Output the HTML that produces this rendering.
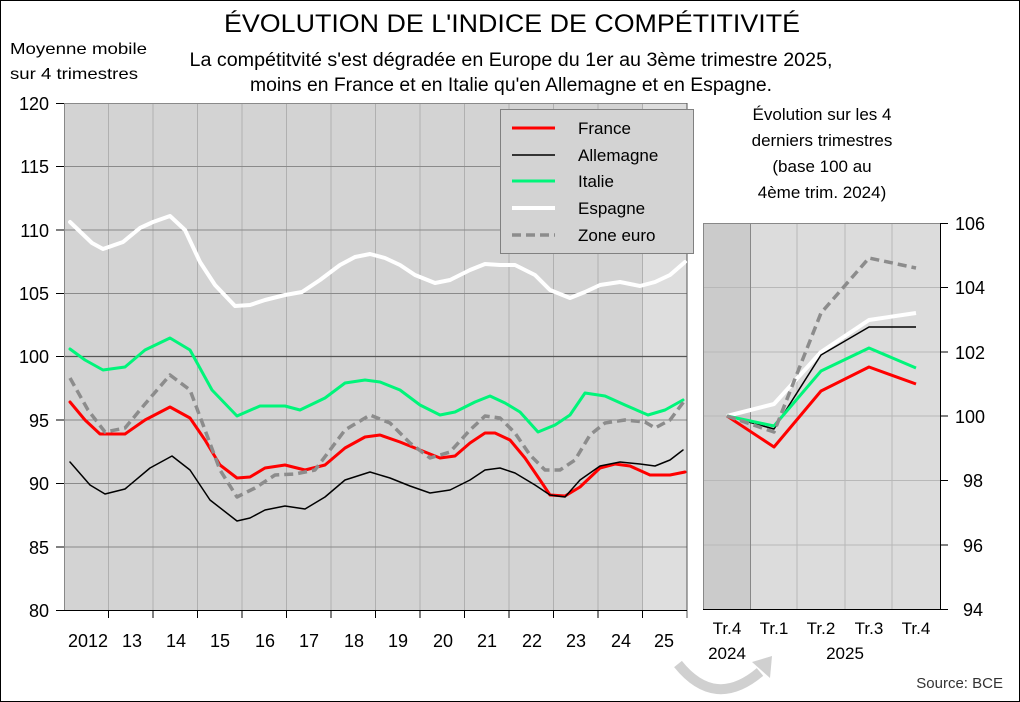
<!DOCTYPE html>
<html><head><meta charset="utf-8"><style>
html,body{margin:0;padding:0;background:#fff}
svg{display:block;font-family:"Liberation Sans Narrow","Liberation Sans",sans-serif}
</style></head><body>
<svg width="1020" height="702" viewBox="0 0 1020 702" xmlns="http://www.w3.org/2000/svg">
<rect x="0.5" y="0.5" width="1019" height="701" fill="#fff" stroke="#000" stroke-width="1"/>
<text x="512" y="32" font-size="25" text-anchor="middle" textLength="576" lengthAdjust="spacingAndGlyphs">ÉVOLUTION DE L'INDICE DE COMPÉTITIVITÉ</text>
<text x="511" y="66" font-size="19" text-anchor="middle" textLength="643" lengthAdjust="spacingAndGlyphs">La compétitvité s'est dégradée en Europe du 1er au 3ème trimestre 2025,</text>
<text x="511" y="91" font-size="19" text-anchor="middle" textLength="522" lengthAdjust="spacingAndGlyphs">moins en France et en Italie qu'en Allemagne et en Espagne.</text>
<text x="10" y="54" font-size="16" textLength="137" lengthAdjust="spacingAndGlyphs">Moyenne mobile</text>
<text x="10" y="79" font-size="16" textLength="128" lengthAdjust="spacingAndGlyphs">sur 4 trimestres</text>

<!-- main plot -->
<rect x="64" y="103" width="623" height="507" fill="#d3d3d3"/>
<rect x="642" y="103" width="45" height="507" fill="#dedede"/>
<g stroke="#b0b0b0" stroke-width="1">
<line x1="108.5" y1="103" x2="108.5" y2="610"/><line x1="153" y1="103" x2="153" y2="610"/><line x1="197.5" y1="103" x2="197.5" y2="610"/><line x1="242" y1="103" x2="242" y2="610"/><line x1="286.5" y1="103" x2="286.5" y2="610"/><line x1="331" y1="103" x2="331" y2="610"/><line x1="375.5" y1="103" x2="375.5" y2="610"/><line x1="420" y1="103" x2="420" y2="610"/><line x1="464.5" y1="103" x2="464.5" y2="610"/><line x1="509" y1="103" x2="509" y2="610"/><line x1="553.5" y1="103" x2="553.5" y2="610"/><line x1="598" y1="103" x2="598" y2="610"/><line x1="642.5" y1="103" x2="642.5" y2="610"/>
</g>
<g stroke="#8a8a8a" stroke-width="1">
<line x1="64" y1="103.5" x2="687" y2="103.5"/><line x1="64" y1="166.5" x2="687" y2="166.5"/><line x1="64" y1="230" x2="687" y2="230"/><line x1="64" y1="293.5" x2="687" y2="293.5"/><line x1="64" y1="420" x2="687" y2="420"/><line x1="64" y1="483.5" x2="687" y2="483.5"/><line x1="64" y1="547" x2="687" y2="547"/>
</g>
<line x1="64" y1="356.5" x2="687" y2="356.5" stroke="#555" stroke-width="1.2"/>
<line x1="64.5" y1="103" x2="64.5" y2="610" stroke="#888"/>
<line x1="687" y1="103" x2="687" y2="618" stroke="#555"/>
<line x1="56" y1="610.5" x2="687" y2="610.5" stroke="#000"/>
<g stroke="#000"><line x1="56" y1="103.5" x2="64" y2="103.5"/><line x1="56" y1="166.5" x2="64" y2="166.5"/><line x1="56" y1="230" x2="64" y2="230"/><line x1="56" y1="293.5" x2="64" y2="293.5"/><line x1="56" y1="356.5" x2="64" y2="356.5"/><line x1="56" y1="420" x2="64" y2="420"/><line x1="56" y1="483.5" x2="64" y2="483.5"/><line x1="56" y1="547" x2="64" y2="547"/>
<line x1="108.5" y1="610" x2="108.5" y2="618"/><line x1="153" y1="610" x2="153" y2="618"/><line x1="197.5" y1="610" x2="197.5" y2="618"/><line x1="242" y1="610" x2="242" y2="618"/><line x1="286.5" y1="610" x2="286.5" y2="618"/><line x1="331" y1="610" x2="331" y2="618"/><line x1="375.5" y1="610" x2="375.5" y2="618"/><line x1="420" y1="610" x2="420" y2="618"/><line x1="464.5" y1="610" x2="464.5" y2="618"/><line x1="509" y1="610" x2="509" y2="618"/><line x1="553.5" y1="610" x2="553.5" y2="618"/><line x1="598" y1="610" x2="598" y2="618"/><line x1="642.5" y1="610" x2="642.5" y2="618"/></g>
<g font-family="Liberation Sans,sans-serif" font-size="18" text-anchor="end">
<text x="49" y="110">120</text><text x="49" y="173">115</text><text x="49" y="237">110</text><text x="49" y="300">105</text><text x="49" y="363">100</text><text x="49" y="427">95</text><text x="49" y="490">90</text><text x="49" y="554">85</text><text x="49" y="617">80</text>
</g>
<g font-family="Liberation Sans,sans-serif" font-size="18" text-anchor="middle">
<text x="88" y="647">2012</text><text x="132" y="647">13</text><text x="176" y="647">14</text><text x="220" y="647">15</text><text x="265" y="647">16</text><text x="309" y="647">17</text><text x="354" y="647">18</text><text x="398" y="647">19</text><text x="443" y="647">20</text><text x="487" y="647">21</text><text x="532" y="647">22</text><text x="576" y="647">23</text><text x="621" y="647">24</text><text x="664" y="647">25</text>
</g>
<g fill="none" stroke-linejoin="round" stroke-linecap="round">
<polyline stroke="#fff" stroke-width="4" points="70,222 92,243 103,249 123,242 140,228 153,222 170,216 185,230 200,262 215,285 235,306 250,305 265,300 285,295 302,292 320,280 340,265 355,257 370,254 385,258 400,265 415,275 435,283 450,280 470,270 485,264 500,265 515,265 535,275 550,290 570,298 585,292 600,285 620,282 640,286 655,282 670,275 685,262"/>
<polyline stroke="#00f57a" stroke-width="3" points="70,349 85,360 103,370 125,367 145,350 170,338 190,350 212,390 237,416 260,406 285,406 300,410 325,398 345,383 365,380 380,382 400,390 420,405 440,415 455,412 475,402 490,396 505,403 520,412 538,432 555,425 570,415 585,393 605,396 625,405 648,415 665,410 683,400"/>
<polyline stroke="#ff0000" stroke-width="3" points="70,402 85,420 100,434 125,434 145,420 170,407 190,418 205,440 220,465 237,478 250,477 265,468 285,465 305,470 325,465 345,448 365,437 380,435 400,442 420,450 440,458 455,456 470,443 485,433 495,433 510,440 525,458 540,480 550,495 565,496 580,487 600,468 615,464 630,466 650,475 670,475 685,472"/>
<polyline stroke="#000" stroke-width="1.5" points="70,462 90,485 105,494 125,489 150,468 172,456 190,470 210,500 237,521 250,518 265,510 285,506 305,509 325,497 345,480 370,472 390,478 410,486 430,493 450,490 470,480 485,470 500,468 515,473 535,485 550,495 565,497 580,480 600,466 620,462 640,464 655,466 670,460 683,450"/>
<polyline stroke="#8c8c8c" stroke-width="3.5" stroke-dasharray="9,5" stroke-linecap="butt" points="70,378 88,410 105,432 125,428 145,404 170,375 190,390 205,430 220,470 237,497 255,488 275,475 295,474 315,470 330,450 345,430 370,415 390,423 410,443 430,458 450,452 470,430 485,416 500,418 515,433 530,455 545,470 560,470 575,460 590,435 605,423 625,420 645,422 655,428 670,420 685,400"/>
</g>
<!-- legend -->
<rect x="500.5" y="109.5" width="193" height="144" fill="#d3d3d3" stroke="#808080"/>
<line x1="512" y1="128" x2="555" y2="128" stroke="#ff0000" stroke-width="3"/>
<line x1="512" y1="155" x2="555" y2="155" stroke="#000" stroke-width="1.5"/>
<line x1="512" y1="181" x2="555" y2="181" stroke="#00f57a" stroke-width="3"/>
<line x1="512" y1="208" x2="555" y2="208" stroke="#fff" stroke-width="4"/>
<line x1="512" y1="235" x2="555" y2="235" stroke="#8c8c8c" stroke-width="3.5" stroke-dasharray="9,5"/>
<g font-family="Liberation Sans,sans-serif" font-size="17">
<text x="578" y="134">France</text><text x="578" y="161">Allemagne</text><text x="578" y="187">Italie</text><text x="578" y="214">Espagne</text><text x="578" y="241">Zone euro</text>
</g>

<!-- right title -->
<g font-family="Liberation Sans,sans-serif" font-size="17" text-anchor="middle">
<text x="822" y="120">Évolution sur les 4</text><text x="822" y="146">derniers trimestres</text><text x="822" y="172">(base 100 au</text><text x="822" y="198">4ème trim. 2024)</text>
</g>
<!-- right plot -->
<rect x="703" y="223" width="237" height="386" fill="#dcdcdc"/>
<rect x="703" y="223" width="47" height="386" fill="#cbcbcb"/>
<g stroke="#b8b8b8"><line x1="797" y1="223" x2="797" y2="609"/><line x1="845" y1="223" x2="845" y2="609"/><line x1="892" y1="223" x2="892" y2="609"/>
<line x1="703" y1="287.5" x2="940" y2="287.5"/><line x1="703" y1="352" x2="940" y2="352"/><line x1="703" y1="416" x2="940" y2="416"/><line x1="703" y1="480.5" x2="940" y2="480.5"/><line x1="703" y1="545" x2="940" y2="545"/></g>
<line x1="750.5" y1="223" x2="750.5" y2="609" stroke="#888"/>
<rect x="703.5" y="223.5" width="237" height="386" fill="none" stroke="#888"/>
<line x1="940.5" y1="223" x2="940.5" y2="609" stroke="#000"/>
<line x1="703" y1="609.5" x2="940" y2="609.5" stroke="#000"/>
<g stroke="#000"><line x1="940" y1="223.5" x2="948" y2="223.5"/><line x1="940" y1="287.5" x2="948" y2="287.5"/><line x1="940" y1="352" x2="948" y2="352"/><line x1="940" y1="416" x2="948" y2="416"/><line x1="940" y1="480.5" x2="948" y2="480.5"/><line x1="940" y1="545" x2="948" y2="545"/><line x1="940" y1="609.5" x2="948" y2="609.5"/></g>
<g font-family="Liberation Sans,sans-serif" font-size="18">
<text x="955" y="230">106</text><text x="955" y="294">104</text><text x="955" y="359">102</text><text x="955" y="423">100</text><text x="963" y="487">98</text><text x="963" y="552">96</text><text x="963" y="616">94</text>
</g>
<g font-family="Liberation Sans,sans-serif" font-size="17" text-anchor="middle">
<text x="727" y="634">Tr.4</text><text x="774" y="634">Tr.1</text><text x="821" y="634">Tr.2</text><text x="869" y="634">Tr.3</text><text x="916" y="634">Tr.4</text>
<text x="727" y="659">2024</text><text x="845" y="659">2025</text>
</g>
<g fill="none" stroke-linejoin="round">
<polyline stroke="#fff" stroke-width="4" points="727,416 774,404 821,352 869,320 916,313"/>
<polyline stroke="#000" stroke-width="1.5" points="727,416 774,429 821,355 869,327 916,327"/>
<polyline stroke="#00f57a" stroke-width="3" points="727,416 774,426 821,371 869,348 916,368"/>
<polyline stroke="#ff0000" stroke-width="3" points="727,416 774,447 821,391 869,367 916,384"/>
<polyline stroke="#8c8c8c" stroke-width="3.5" stroke-dasharray="9,5" points="727,416 774,432 821,313 869,258 916,268"/>
</g>
<!-- arrow -->
<path d="M678,664 Q715,710 760,672" fill="none" stroke="#d0d0d0" stroke-width="10"/>
<polygon points="752,662 772,656 770,678" fill="#d0d0d0"/>
<text x="1003" y="688" font-family="Liberation Sans,sans-serif" font-size="15" fill="#333" text-anchor="end">Source: BCE</text>
</svg>
</body></html>
